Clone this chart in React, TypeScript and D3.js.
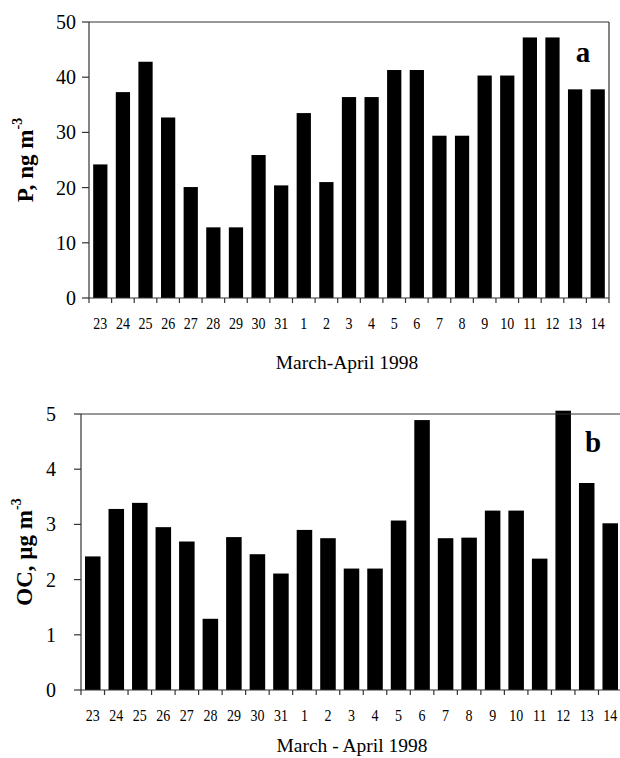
import * as d3 from "d3";
import { useEffect, useRef } from "react";

const days = ["23", "24", "25", "26", "27", "28", "29", "30", "31", "1", "2", "3", "4", "5", "6", "7", "8", "9", "10", "11", "12", "13", "14"];
const pValues = [24.2, 37.3, 42.8, 32.7, 20.1, 12.8, 12.8, 25.9, 20.4, 33.5, 21.0, 36.4, 36.4, 41.3, 41.3, 29.4, 29.4, 40.3, 40.3, 47.2, 47.2, 37.8, 37.8];
const ocValues = [2.42, 3.28, 3.39, 2.95, 2.69, 1.29, 2.77, 2.46, 2.11, 2.9, 2.75, 2.2, 2.2, 3.07, 4.89, 2.75, 2.76, 3.25, 3.25, 2.38, 5.06, 3.75, 3.02];
const pTicks = [0, 10, 20, 30, 40, 50];
const ocTicks = [0, 1, 2, 3, 4, 5];

const FONT = "'Liberation Serif', 'Times New Roman', serif";

const App = () => {
    const chartRef = useRef(null);

    useEffect(() => {
        const svg = d3.select(chartRef.current);
        svg.selectAll("*").remove();

        // одна панель графика
        const drawPanel = (cfg) => {
            const g = svg.append("g");
            const scaleX = d3.scaleBand()
                .domain(days)
                .range([cfg.left, cfg.right])
                .paddingInner(cfg.pad)
                .paddingOuter(cfg.pad / 2);
            const scaleY = d3.scaleLinear()
                .domain(cfg.domain)
                .range([cfg.bottom, cfg.top]);
            const step = scaleX.step();

            // столбцы
            g.selectAll("rect.bar")
                .data(cfg.values)
                .enter()
                .append("rect")
                .attr("x", (d, i) => scaleX(days[i]))
                .attr("y", d => scaleY(d))
                .attr("width", scaleX.bandwidth())
                .attr("height", d => cfg.bottom - scaleY(d))
                .style("fill", "#000");

            // рамка
            const line = (x1, y1, x2, y2) => g.append("line")
                .attr("x1", x1).attr("y1", y1).attr("x2", x2).attr("y2", y2)
                .style("stroke", "#333").style("stroke-width", 1.2);
            line(cfg.left, cfg.top, cfg.right, cfg.top);
            line(cfg.right, cfg.top, cfg.right, cfg.bottom);
            line(cfg.left, cfg.top, cfg.left, cfg.bottom);
            line(cfg.left, cfg.bottom, cfg.right, cfg.bottom);

            // ось Y
            cfg.ticks.forEach(t => {
                const y = scaleY(t);
                line(cfg.left - 7, y, cfg.left, y);
                g.append("text")
                    .attr("x", cfg.labelX)
                    .attr("y", y + 7)
                    .attr("text-anchor", "end")
                    .style("font-family", FONT)
                    .style("font-size", "20px")
                    .text(t);
            });

            // ось X
            d3.range(days.length + 1).forEach(i => {
                const x = cfg.left + i * step;
                line(x, cfg.bottom, x, cfg.bottom + 5);
            });
            days.forEach(d => {
                const cx = scaleX(d) + scaleX.bandwidth() / 2;
                g.append("text")
                    .attr("transform", `translate(${cx}, ${cfg.bottom + 31}) scale(0.8, 1)`)
                    .attr("text-anchor", "middle")
                    .style("font-family", FONT)
                    .style("font-size", "17.5px")
                    .text(d);
            });

            g.append("text")
                .attr("x", cfg.titleX)
                .attr("y", cfg.titleY)
                .attr("text-anchor", "middle")
                .style("font-family", FONT)
                .style("font-size", "19.5px")
                .text(cfg.xTitle);

            // подпись оси Y с верхним индексом
            const yt = g.append("text")
                .attr("transform", `translate(${cfg.yTitleX}, ${(cfg.top + cfg.bottom) / 2}) rotate(-90)`)
                .attr("text-anchor", "middle")
                .style("font-family", FONT)
                .style("font-size", "23px")
                .style("font-weight", "bold");
            yt.append("tspan").text(cfg.yTitle);
            yt.append("tspan").attr("dy", -11).style("font-size", "14px").text("-3");

            g.append("text")
                .attr("x", cfg.letterX)
                .attr("y", cfg.letterY)
                .attr("text-anchor", "middle")
                .style("font-family", FONT)
                .style("font-size", "29px")
                .style("font-weight", "bold")
                .text(cfg.letter);
        };

        drawPanel({
            values: pValues, ticks: pTicks, domain: [0, 50],
            left: 89, right: 609, top: 22, bottom: 298, pad: 0.37,
            labelX: 76, yTitle: "P, ng m", yTitleX: 33,
            xTitle: "March-April 1998", titleX: 347, titleY: 369,
            letter: "a", letterX: 583, letterY: 62,
        });
        drawPanel({
            values: ocValues, ticks: ocTicks, domain: [0, 5],
            left: 81, right: 622, top: 414, bottom: 690, pad: 0.34,
            labelX: 56, yTitle: "OC, \u00b5g m", yTitleX: 32,
            xTitle: "March - April 1998", titleX: 352, titleY: 752,
            letter: "b", letterX: 593, letterY: 452,
        });
    }, []);

    return (
        <svg ref={chartRef} width={620} height={758}
            style={{ position: "absolute", left: 0, top: 0, background: "#fff" }}></svg>
    );
};

export default App;
